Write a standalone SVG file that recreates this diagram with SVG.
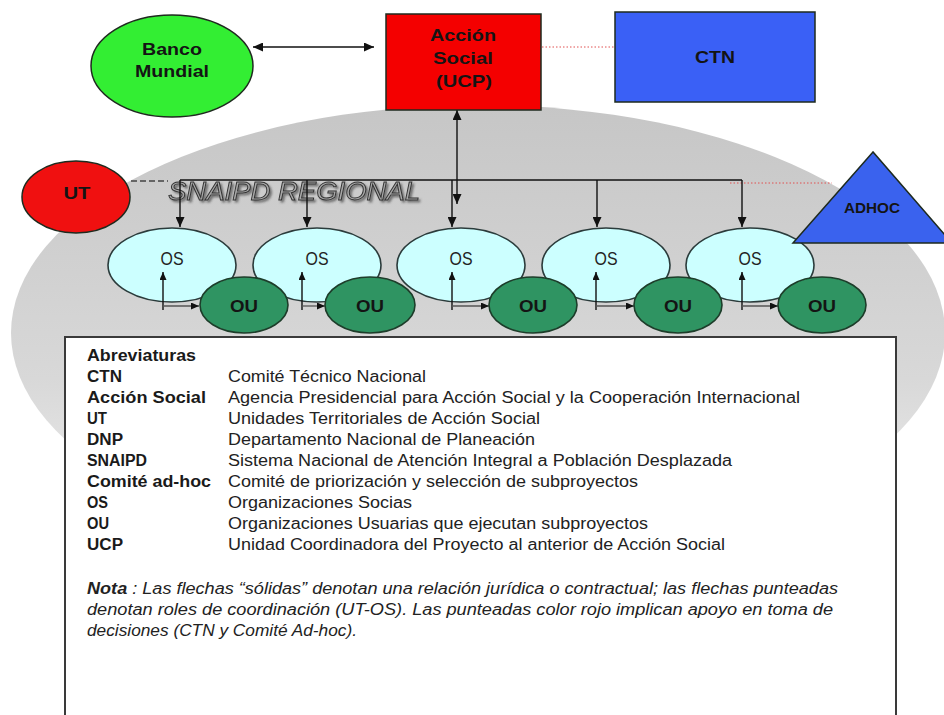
<svg xmlns="http://www.w3.org/2000/svg" width="944" height="715" viewBox="0 0 944 715">
<defs>
<linearGradient id="gbg" x1="0" y1="0" x2="0" y2="1">
<stop offset="0" stop-color="#c6c6c6"/>
<stop offset="0.6" stop-color="#d8d8d8"/>
<stop offset="1" stop-color="#f2f2f2"/>
</linearGradient>
<filter id="shadow" x="-5%" y="-20%" width="115%" height="150%">
<feGaussianBlur in="SourceAlpha" stdDeviation="0.8" result="b"/>
<feOffset in="b" dx="2" dy="2" result="o"/>
<feFlood flood-color="#333" flood-opacity="0.6"/>
<feComposite in2="o" operator="in" result="s"/>
<feMerge><feMergeNode in="s"/><feMergeNode in="SourceGraphic"/></feMerge>
</filter>
<marker id="arr" markerUnits="userSpaceOnUse" markerWidth="10" markerHeight="9" refX="10" refY="4.5" orient="auto-start-reverse">
<path d="M0,0 L10,4.5 L0,9 z" fill="#111"/>
</marker>
<marker id="arrs" markerUnits="userSpaceOnUse" markerWidth="8" markerHeight="7" refX="8" refY="3.5" orient="auto">
<path d="M0,0 L8,3.5 L0,7 z" fill="#111"/>
</marker>
</defs>
<style>
.node{stroke:#1e2a1e;stroke-width:1.5}
.os{fill:#ccffff;stroke:#2b3b3b;stroke-width:1.6}
.ou{fill:#2f9462;stroke:#1d3d2a;stroke-width:1.6}
.lbl{font-family:"Liberation Sans",Arial,sans-serif;font-weight:bold;fill:#141414;text-anchor:middle}
.ost{font-family:"Liberation Sans",Arial,sans-serif;font-size:18px;fill:#222;text-anchor:middle}
.con{fill:none;stroke:#111;stroke-width:1.4}
.thin{fill:none;stroke:#555;stroke-width:1.3}
.red{fill:none;stroke:#e05050;stroke-width:1;stroke-dasharray:1.5 2}
.lg{font-family:"Liberation Sans",Arial,sans-serif;font-size:16px;fill:#222}
.lgb{font-family:"Liberation Sans",Arial,sans-serif;font-size:16px;font-weight:bold;fill:#1a1a1a}
.nota{font-family:"Liberation Sans",Arial,sans-serif;font-size:16px;font-style:italic;fill:#222}
</style>

<rect width="944" height="715" fill="#ffffff"/>
<ellipse id="snaipd-area" cx="478" cy="333" rx="467" ry="228" fill="url(#gbg)"/>

<g id="snaipd-title">
<text x="168" y="200" font-family="Liberation Sans,Arial,sans-serif" font-size="25" font-style="italic" fill="#a8a8a8" stroke="#333" stroke-width="0.9" filter="url(#shadow)" textLength="252" lengthAdjust="spacingAndGlyphs">SNAIPD REGIONAL</text>
</g>

<g id="os-nodes">
<g id="os1"><ellipse class="os" cx="172" cy="265" rx="64" ry="37"/><text class="ost" x="172" y="265" textLength="23" lengthAdjust="spacingAndGlyphs">OS</text></g>
<g id="os2"><ellipse class="os" cx="317" cy="265" rx="64" ry="37"/><text class="ost" x="317" y="265" textLength="23" lengthAdjust="spacingAndGlyphs">OS</text></g>
<g id="os3"><ellipse class="os" cx="461" cy="265" rx="64" ry="37"/><text class="ost" x="461" y="265" textLength="23" lengthAdjust="spacingAndGlyphs">OS</text></g>
<g id="os4"><ellipse class="os" cx="606" cy="265" rx="64" ry="37"/><text class="ost" x="606" y="265" textLength="23" lengthAdjust="spacingAndGlyphs">OS</text></g>
<g id="os5"><ellipse class="os" cx="750" cy="265" rx="64" ry="37"/><text class="ost" x="750" y="265" textLength="23" lengthAdjust="spacingAndGlyphs">OS</text></g>
</g>

<g id="connectors">
<line class="con" x1="253" y1="47" x2="374" y2="47" marker-start="url(#arr)" marker-end="url(#arr)"/>
<line class="red" x1="542" y1="47" x2="614" y2="47"/>
<line class="red" x1="730" y1="183" x2="832" y2="183"/>
<line x1="131" y1="181" x2="168" y2="181" stroke="#444" stroke-width="1.3" stroke-dasharray="6 3"/>
<line class="con" x1="457" y1="204" x2="457" y2="110" marker-start="url(#arr)" marker-end="url(#arr)"/>
<polyline class="con" points="180,180 742,180"/>
<line class="con" x1="180" y1="180" x2="180" y2="227" marker-end="url(#arr)"/>
<line class="con" x1="307" y1="180" x2="307" y2="227" marker-end="url(#arr)"/>
<line class="con" x1="452" y1="180" x2="452" y2="227" marker-end="url(#arr)"/>
<line class="con" x1="597" y1="180" x2="597" y2="227" marker-end="url(#arr)"/>
<line class="con" x1="742" y1="180" x2="742" y2="227" marker-end="url(#arr)"/>
<line class="con" x1="163" y1="310" x2="163" y2="272" marker-end="url(#arrs)"/>
<line class="thin" x1="163" y1="306" x2="199" y2="306" marker-end="url(#arrs)"/>
<line class="con" x1="302" y1="310" x2="302" y2="272" marker-end="url(#arrs)"/>
<line class="thin" x1="302" y1="306" x2="325" y2="306" marker-end="url(#arrs)"/>
<line class="con" x1="452" y1="310" x2="452" y2="272" marker-end="url(#arrs)"/>
<line class="thin" x1="452" y1="306" x2="489" y2="306" marker-end="url(#arrs)"/>
<line class="con" x1="596" y1="310" x2="596" y2="272" marker-end="url(#arrs)"/>
<line class="thin" x1="596" y1="306" x2="634" y2="306" marker-end="url(#arrs)"/>
<line class="con" x1="742" y1="310" x2="742" y2="272" marker-end="url(#arrs)"/>
<line class="thin" x1="742" y1="306" x2="778" y2="306" marker-end="url(#arrs)"/>
</g>

<g id="ou-nodes">
<g id="ou1"><ellipse class="ou" cx="244" cy="305" rx="44" ry="28"/><text class="lbl" x="244" y="312" font-size="17" textLength="28" lengthAdjust="spacingAndGlyphs">OU</text></g>
<g id="ou2"><ellipse class="ou" cx="370" cy="305" rx="45" ry="28"/><text class="lbl" x="370" y="312" font-size="17" textLength="28" lengthAdjust="spacingAndGlyphs">OU</text></g>
<g id="ou3"><ellipse class="ou" cx="533" cy="305" rx="44" ry="28"/><text class="lbl" x="533" y="312" font-size="17" textLength="28" lengthAdjust="spacingAndGlyphs">OU</text></g>
<g id="ou4"><ellipse class="ou" cx="678" cy="305" rx="44" ry="28"/><text class="lbl" x="678" y="312" font-size="17" textLength="28" lengthAdjust="spacingAndGlyphs">OU</text></g>
<g id="ou5"><ellipse class="ou" cx="822" cy="305" rx="44" ry="28"/><text class="lbl" x="822" y="312" font-size="17" textLength="28" lengthAdjust="spacingAndGlyphs">OU</text></g>
</g>

<g id="banco-mundial">
<ellipse class="node" cx="172" cy="66" rx="81" ry="51" fill="#33ee33"/>
<text class="lbl" x="172" y="55" font-size="17" fill="#173a17" textLength="60" lengthAdjust="spacingAndGlyphs">Banco</text>
<text class="lbl" x="172" y="77" font-size="17" fill="#173a17" textLength="74" lengthAdjust="spacingAndGlyphs">Mundial</text>
</g>

<g id="accion-social">
<rect class="node" x="386" y="14" width="155" height="96" fill="#f40000"/>
<text class="lbl" x="463" y="41" font-size="17" textLength="66" lengthAdjust="spacingAndGlyphs">Acción</text>
<text class="lbl" x="463" y="64" font-size="17" textLength="60" lengthAdjust="spacingAndGlyphs">Social</text>
<text class="lbl" x="464" y="87" font-size="17" textLength="56" lengthAdjust="spacingAndGlyphs">(UCP)</text>
</g>

<g id="ctn">
<rect class="node" x="615" y="12" width="200" height="90" fill="#3a60f6"/>
<text class="lbl" x="715" y="63" font-size="17" textLength="40" lengthAdjust="spacingAndGlyphs">CTN</text>
</g>

<g id="ut">
<ellipse class="node" cx="76" cy="197" rx="54" ry="36" fill="#f01010"/>
<text class="lbl" x="77" y="199" font-size="17" textLength="27" lengthAdjust="spacingAndGlyphs">UT</text>
</g>

<g id="adhoc">
<polygon class="node" points="873,152 793,243 952,243" fill="#3a62ee"/>
<text class="lbl" x="872" y="213" font-size="15" textLength="56" lengthAdjust="spacingAndGlyphs">ADHOC</text>
</g>

<g id="legend">
<rect x="65" y="337" width="831" height="400" fill="#ffffff" stroke="#3a3a3a" stroke-width="2"/>
<text class="lgb" x="87" y="361" textLength="109" lengthAdjust="spacingAndGlyphs">Abreviaturas</text>
<text class="lgb" x="87" y="382" textLength="35" lengthAdjust="spacingAndGlyphs">CTN</text>
<text class="lgb" x="87" y="403" textLength="119" lengthAdjust="spacingAndGlyphs">Acción Social</text>
<text class="lgb" x="87" y="424" textLength="20" lengthAdjust="spacingAndGlyphs">UT</text>
<text class="lgb" x="87" y="445" textLength="36" lengthAdjust="spacingAndGlyphs">DNP</text>
<text class="lgb" x="87" y="466" textLength="60" lengthAdjust="spacingAndGlyphs">SNAIPD</text>
<text class="lgb" x="87" y="487" textLength="124" lengthAdjust="spacingAndGlyphs">Comité ad-hoc</text>
<text class="lgb" x="87" y="508" textLength="21" lengthAdjust="spacingAndGlyphs">OS</text>
<text class="lgb" x="87" y="529" textLength="22" lengthAdjust="spacingAndGlyphs">OU</text>
<text class="lgb" x="87" y="550" textLength="36" lengthAdjust="spacingAndGlyphs">UCP</text>
<text class="lg" x="228" y="382" textLength="198" lengthAdjust="spacingAndGlyphs">Comité Técnico Nacional</text>
<text class="lg" x="228" y="403" textLength="572" lengthAdjust="spacingAndGlyphs">Agencia Presidencial para Acción Social  y la Cooperación Internacional</text>
<text class="lg" x="228" y="424" textLength="312" lengthAdjust="spacingAndGlyphs">Unidades Territoriales de Acción Social</text>
<text class="lg" x="228" y="445" textLength="307" lengthAdjust="spacingAndGlyphs">Departamento Nacional de Planeación</text>
<text class="lg" x="228" y="466" textLength="504" lengthAdjust="spacingAndGlyphs">Sistema Nacional de Atención Integral a Población Desplazada</text>
<text class="lg" x="228" y="487" textLength="410" lengthAdjust="spacingAndGlyphs">Comité de priorización y selección de subproyectos</text>
<text class="lg" x="228" y="508" textLength="184" lengthAdjust="spacingAndGlyphs">Organizaciones Socias</text>
<text class="lg" x="228" y="529" textLength="420" lengthAdjust="spacingAndGlyphs">Organizaciones Usuarias que ejecutan subproyectos</text>
<text class="lg" x="228" y="550" textLength="497" lengthAdjust="spacingAndGlyphs">Unidad Coordinadora del Proyecto al anterior de Acción Social</text>
<text class="nota" x="87" y="594" textLength="751" lengthAdjust="spacingAndGlyphs"><tspan font-weight="bold">Nota</tspan> : Las flechas “sólidas” denotan una relación jurídica o contractual; las flechas punteadas</text>
<text class="nota" x="87" y="615" textLength="746" lengthAdjust="spacingAndGlyphs">denotan roles de coordinación (UT-OS). Las punteadas color rojo implican apoyo en  toma de</text>
<text class="nota" x="87" y="636" textLength="270" lengthAdjust="spacingAndGlyphs">decisiones (CTN y Comité Ad-hoc).</text>
</g>
</svg>
